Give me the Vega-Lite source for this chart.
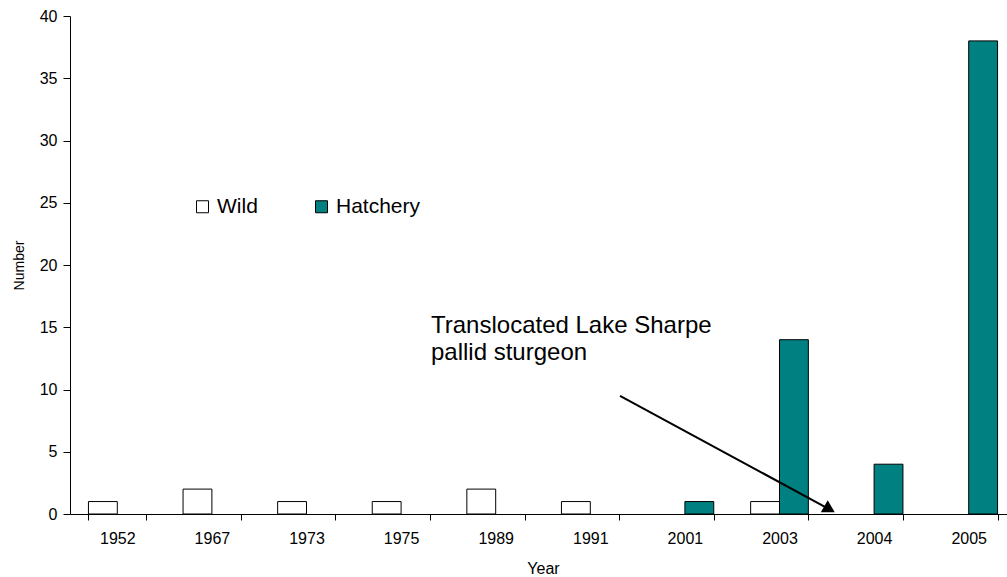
{
  "$schema": "https://vega.github.io/schema/vega-lite/v6.json",
  "width": 946,
  "height": 498,
  "autosize": "none",
  "padding": {"left": 70, "top": 16, "right": 0, "bottom": 63},
  "background": "white",
  "config": {
    "view": {"stroke": null},
    "font": "Liberation Sans",
    "axis": {
      "domainColor": "black",
      "tickColor": "black",
      "labelColor": "black",
      "titleColor": "black",
      "labelFontSize": 16,
      "titleFontWeight": "normal",
      "grid": false
    }
  },
  "layer": [
    {
      "data": {
        "values": [
          {"Year": "1952", "Type": "Wild", "Count": 1},
          {"Year": "1967", "Type": "Wild", "Count": 2},
          {"Year": "1973", "Type": "Wild", "Count": 1},
          {"Year": "1975", "Type": "Wild", "Count": 1},
          {"Year": "1989", "Type": "Wild", "Count": 2},
          {"Year": "1991", "Type": "Wild", "Count": 1},
          {"Year": "2001", "Type": "Hatchery", "Count": 1},
          {"Year": "2003", "Type": "Wild", "Count": 1},
          {"Year": "2003", "Type": "Hatchery", "Count": 14},
          {"Year": "2004", "Type": "Hatchery", "Count": 4},
          {"Year": "2005", "Type": "Hatchery", "Count": 38}
        ]
      },
      "mark": {"type": "bar", "stroke": "black", "strokeWidth": 1},
      "encoding": {
        "x": {
          "field": "Year",
          "type": "nominal",
          "scale": {
            "domain": ["1952", "1967", "1973", "1975", "1989", "1991", "2001", "2003", "2004", "2005"],
            "paddingInner": 0.39,
            "paddingOuter": 0.195
          },
          "axis": {"title": "Year", "labelAngle": 0, "tickBand": "extent", "tickSize": 6, "labelPadding": 10, "titlePadding": 14, "titleFontSize": 16}
        },
        "xOffset": {
          "field": "Type",
          "type": "nominal",
          "scale": {"domain": ["Wild", "Hatchery"], "paddingInner": 0, "paddingOuter": 0}
        },
        "y": {
          "field": "Count",
          "type": "quantitative",
          "scale": {"domain": [0, 40], "nice": false},
          "axis": {"title": "Number", "values": [0, 5, 10, 15, 20, 25, 30, 35, 40], "tickSize": 7, "labelPadding": 6, "titlePadding": 13, "titleFontSize": 14}
        },
        "fill": {
          "field": "Type",
          "type": "nominal",
          "scale": {"domain": ["Wild", "Hatchery"], "range": ["white", "#008080"]},
          "legend": {
            "title": null,
            "orient": "none",
            "legendX": 122,
            "legendY": 180,
            "direction": "horizontal",
            "symbolType": "square",
            "symbolSize": 144,
            "symbolStrokeColor": "black",
            "symbolStrokeWidth": 1,
            "labelFontSize": 21,
            "labelColor": "black",
            "labelOffset": 4,
            "columnPadding": 53
          }
        }
      }
    },
    {
      "data": {
        "values": [
          {"tx": 3.816, "ty": 14.54, "label": "Translocated Lake Sharpe\npallid sturgeon"}
        ]
      },
      "mark": {"type": "text", "align": "left", "baseline": "alphabetic", "fontSize": 24, "lineBreak": "\n", "lineHeight": 27, "color": "black"},
      "encoding": {
        "x": {"field": "tx", "type": "quantitative", "scale": {"domain": [0, 10], "nice": false, "zero": false}, "axis": null},
        "y": {"field": "ty", "type": "quantitative"},
        "text": {"field": "label"}
      }
    },
    {
      "data": {
        "values": [
          {"ax1": 5.814, "ay1": 9.48, "ax2": 8.0, "ay2": 0.5}
        ]
      },
      "mark": {"type": "rule", "color": "black", "strokeWidth": 2},
      "encoding": {
        "x": {"field": "ax1", "type": "quantitative", "scale": {"domain": [0, 10], "nice": false, "zero": false}, "axis": null},
        "y": {"field": "ay1", "type": "quantitative"},
        "x2": {"field": "ax2"},
        "y2": {"field": "ay2"}
      }
    },
    {
      "data": {
        "values": [
          {"px": 8.01, "py": 0.62}
        ]
      },
      "mark": {"type": "point", "shape": "triangle-up", "filled": true, "color": "black", "opacity": 1, "size": 196},
      "encoding": {
        "x": {"field": "px", "type": "quantitative", "scale": {"domain": [0, 10], "nice": false, "zero": false}, "axis": null},
        "y": {"field": "py", "type": "quantitative"}
      }
    }
  ],
  "resolve": {"scale": {"x": "independent"}}
}
